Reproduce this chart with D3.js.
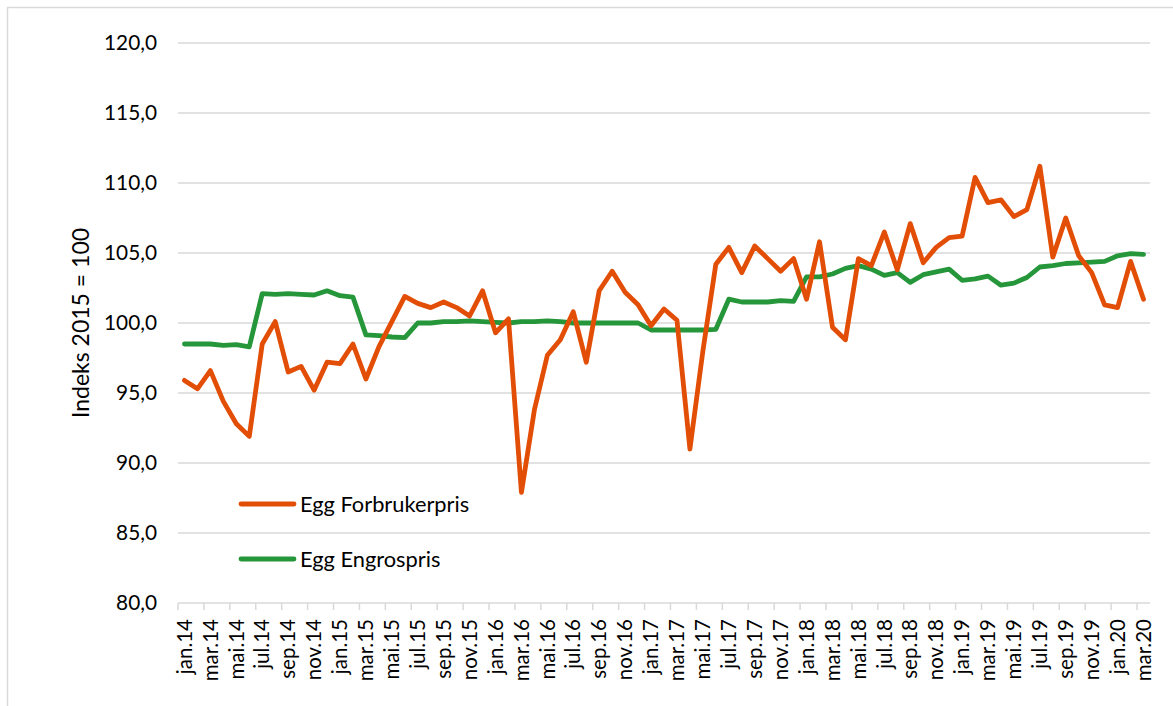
<!DOCTYPE html>
<html>
<head>
<meta charset="utf-8">
<script src="https://cdn.jsdelivr.net/npm/d3@7"></script>
<style>
  html, body { margin: 0; padding: 0; background: #fff; }
  svg { display: block; font-family: Lato, "Open Sans", sans-serif; }
</style>
</head>
<body>
<svg id="chart" width="1173" height="706"></svg>
<script>
// Monthly categories jan.14 – mar.20
const monthNames = ["jan", "feb", "mar", "apr", "mai", "jun", "jul", "aug", "sep", "okt", "nov", "des"];
const years = ["14", "15", "16", "17", "18", "19", "20"];
const categories = [];
years.forEach(yr => monthNames.forEach(m => categories.push(m + "." + yr)));
categories.splice(75); // ends at mar.20

// Egg consumer price index (2015 = 100)
const forbrukerpris = [
  95.9, 95.3, 96.6, 94.4, 92.8, 91.9, 98.5, 100.1, 96.5, 96.9, 95.2, 97.2,
  97.1, 98.5, 96.0, 98.3, 100.1, 101.9, 101.4, 101.1, 101.5, 101.1, 100.5, 102.3,
  99.3, 100.3, 87.9, 93.8, 97.7, 98.8, 100.8, 97.2, 102.3, 103.7, 102.2, 101.3,
  99.8, 101.0, 100.2, 91.0, 98.0, 104.2, 105.4, 103.6, 105.5, 104.6, 103.7, 104.6,
  101.7, 105.8, 99.7, 98.8, 104.6, 104.1, 106.5, 103.8, 107.1, 104.3, 105.4, 106.1,
  106.2, 110.4, 108.6, 108.8, 107.6, 108.1, 111.2, 104.7, 107.5, 104.8, 103.6, 101.3,
  101.1, 104.4, 101.7
];

// Egg wholesale price index (2015 = 100)
const engrospris = [
  98.5, 98.5, 98.5, 98.4, 98.45, 98.3, 102.1, 102.05, 102.1, 102.05, 102.0, 102.3,
  101.95, 101.85, 99.15, 99.1, 99.0, 98.95, 100.0, 100.0, 100.1, 100.1, 100.15, 100.1,
  100.05, 100.0, 100.1, 100.1, 100.15, 100.1, 100.0, 100.0, 100.0, 100.0, 100.0, 100.0,
  99.5, 99.5, 99.5, 99.5, 99.5, 99.55, 101.7, 101.5, 101.5, 101.5, 101.6, 101.55,
  103.3, 103.3, 103.5, 103.9, 104.1, 103.85, 103.4, 103.6, 102.9, 103.45, 103.65, 103.85,
  103.05, 103.15, 103.35, 102.7, 102.85, 103.25, 104.0, 104.1, 104.25, 104.3, 104.35, 104.4,
  104.8, 104.95, 104.9
];

const yTicks = [80, 85, 90, 95, 100, 105, 110, 115, 120];
const tickLabels = categories.filter((d, i) => i % 2 === 0);

const series = [
  { name: "Egg Forbrukerpris", values: forbrukerpris, color: "#E34E06" },
  { name: "Egg Engrospris", values: engrospris, color: "#25963A" }
];

const svg = d3.select("#chart");
const plot = { left: 178, right: 1150, top: 43, bottom: 603 };
const gridColor = "#D9D9D9";
const textColor = "#000";

// Outer frame
svg.append("rect")
  .attr("x", 7.5).attr("y", 7.5)
  .attr("width", 1300).attr("height", 900)
  .attr("fill", "none").attr("stroke", gridColor).attr("stroke-width", 1.5);

const x = d3.scaleBand().domain(categories).range([plot.left, plot.right]).paddingInner(0).paddingOuter(0);
const bw = x.bandwidth();
const y = d3.scaleLinear().domain([80, 120]).range([plot.bottom, plot.top]);

const nb = d3.formatLocale({ decimal: ",", thousands: " ", grouping: [3], currency: ["", " kr"] });
const fmt = nb.format(".1f");

// Horizontal gridlines
svg.append("g").selectAll("line")
  .data(yTicks.filter(v => v > 80))
  .join("line")
  .attr("x1", plot.left).attr("x2", plot.right)
  .attr("y1", d => y(d)).attr("y2", d => y(d))
  .attr("stroke", gridColor).attr("stroke-width", 1.5);

// Y axis labels
const yAxis = svg.append("g")
  .attr("transform", `translate(${plot.left},0)`)
  .call(d3.axisLeft(y).tickValues(yTicks).tickFormat(fmt).tickSize(0).tickPadding(21));
yAxis.select(".domain").remove();
yAxis.selectAll("text")
  .attr("fill", textColor)
  .style("font-size", "20.8px")
  .style("font-family", "Lato, sans-serif");

// X axis
const xAxis = svg.append("g")
  .attr("transform", `translate(0,${plot.bottom})`)
  .call(d3.axisBottom(x).tickValues(tickLabels).tickSize(7).tickPadding(0));
xAxis.select(".domain")
  .attr("d", `M${plot.left},0H${plot.right}`)
  .attr("stroke", gridColor).attr("stroke-width", 1.5);
xAxis.selectAll(".tick line")
  .attr("x1", -bw / 2).attr("x2", -bw / 2)
  .attr("stroke", gridColor).attr("stroke-width", 1.5);
xAxis.selectAll(".tick text")
  .attr("fill", textColor)
  .style("font-size", "20.5px")
  .style("font-family", "Lato, sans-serif")
  .attr("text-anchor", "end")
  .attr("transform", "rotate(-90)")
  .attr("x", -16).attr("y", 0).attr("dy", "0.35em");

// Y axis title
svg.append("text")
  .attr("transform", `translate(81,${(plot.top + plot.bottom) / 2}) rotate(-90)`)
  .attr("text-anchor", "middle")
  .attr("dy", "0.35em")
  .attr("fill", textColor)
  .style("font-size", "23px")
  .text("Indeks 2015 = 100");

// Series lines
const line = d3.line()
  .x((d, i) => x(categories[i]) + bw / 2)
  .y(d => y(d));

svg.append("g").selectAll("path")
  .data(series.slice().reverse())
  .join("path")
  .attr("d", d => line(d.values))
  .attr("fill", "none")
  .attr("stroke", d => d.color)
  .attr("stroke-width", 4.8)
  .attr("stroke-linejoin", "round")
  .attr("stroke-linecap", "round");

// Legend
const legend = svg.append("g")
  .selectAll("g")
  .data(series)
  .join("g")
  .attr("transform", (d, i) => `translate(241,${504 + i * 55})`);
legend.append("line")
  .attr("x1", 0).attr("x2", 53)
  .attr("stroke", d => d.color)
  .attr("stroke-width", 4.8)
  .attr("stroke-linecap", "round");
legend.append("text")
  .attr("x", 59)
  .attr("dy", "0.35em")
  .attr("fill", textColor)
  .style("font-size", "21.8px")
  .text(d => d.name);
</script>
</body>
</html>
